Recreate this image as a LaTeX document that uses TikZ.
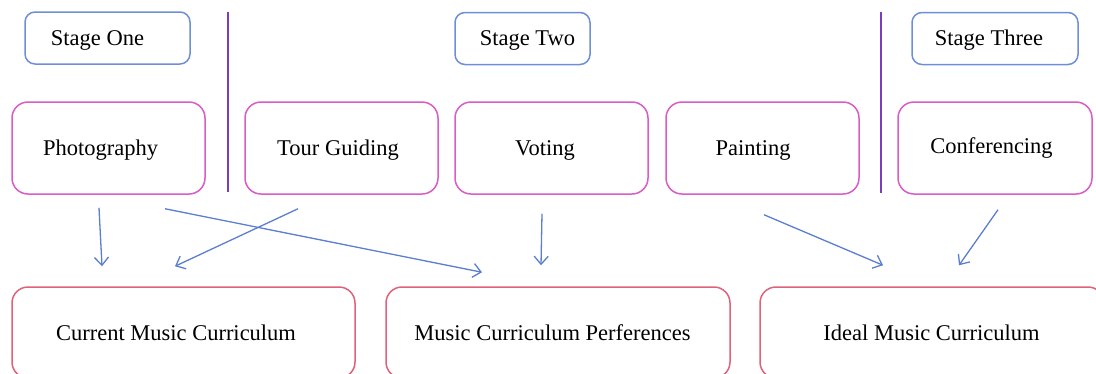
\documentclass[tikz,border=0pt]{standalone}
\usepackage{fontspec}
\setmainfont{Liberation Serif}
\usetikzlibrary{arrows.meta}
\definecolor{stageblue}{HTML}{6E8FD8}
\definecolor{midmag}{HTML}{D95CC8}
\definecolor{botred}{HTML}{E0627A}
\definecolor{arrblue}{HTML}{5B7ED2}
\definecolor{divpurple}{HTML}{7A3CC0}
\begin{document}
\begin{tikzpicture}[x=1pt,y=-1pt,
  every node/.style={inner sep=0pt},
  txt/.style={font=\fontsize{22.5}{26}\selectfont},
  stagebox/.style={draw=stageblue, line width=1.5pt, rounded corners=10pt, minimum height=52pt},
  actbox/.style={draw=midmag, line width=1.5pt, rounded corners=16pt, minimum width=193pt, minimum height=92pt},
  outbox/.style={draw=botred, line width=1.5pt, rounded corners=16pt, minimum width=343pt, minimum height=91pt},
  link/.style={draw=arrblue, line width=1.3pt, -{Straight Barb[length=8pt,width=14pt]}},
  divider/.style={draw=divpurple, line width=1.5pt}]
\useasboundingbox (0,0) rectangle (1096,373);
% stage labels
\node[stagebox, minimum width=165pt] (s1) at (107.5,38) {};
\node[stagebox, minimum width=135pt] (s2) at (522.5,38.5) {};
\node[stagebox, minimum width=166pt] (s3) at (995,38.5) {};
\node[txt] (s1t) at (97.5,40) {Stage One};
\node[txt] (s2t) at (527.5,40.5) {Stage Two};
\node[txt] (s3t) at (989,40.5) {Stage Three};
% dividers
\draw[divider] (228,12) -- (228,192);
\draw[divider] (881,12) -- (881,193);
% activities
\node[actbox] (photo) at (108.5,148) {};
\node[actbox] (tour) at (341.5,148) {};
\node[actbox] (vote) at (551.5,148) {};
\node[actbox] (paint) at (762.5,148) {};
\node[actbox, minimum width=194pt] (conf) at (995,148) {};
\node[txt] (photot) at (100.5,150) {Photography};
\node[txt] (tourt) at (338,150) {Tour Guiding};
\node[txt] (votet) at (545,150) {Voting};
\node[txt] (paintt) at (753,150) {Painting};
\node[txt] (conft) at (991.5,148) {Conferencing};
% outcomes
\node[outbox] (cur) at (183.5,332.5) {};
\node[outbox, minimum width=344pt] (pref) at (558,332.5) {};
\node[outbox, minimum width=344pt] (ideal) at (932,332.5) {};
\node[txt] (curt) at (176,333) {Current Music Curriculum};
\node[txt] (preft) at (552.5,333) {Music Curriculum Perferences};
\node[txt] (idealt) at (931.5,333) {Ideal Music Curriculum};
% connectors
\draw[link] ([xshift=-9.5pt,yshift=-13pt]photo.south) -- ([xshift=-81.5pt,yshift=20pt]cur.north);
\draw[link] ([xshift=56.5pt,yshift=-14pt]photo.south) -- ([xshift=-76pt,yshift=14pt]pref.north);
\draw[link] ([xshift=-43.5pt,yshift=-14pt]tour.south) -- ([xshift=-8.5pt,yshift=20pt]cur.north);
\draw[link] ([xshift=-9.5pt,yshift=-19pt]vote.south) -- ([xshift=-17pt,yshift=21pt]pref.north);
\draw[link] ([xshift=1.5pt,yshift=-20pt]paint.south) -- ([xshift=-49pt,yshift=21pt]ideal.north);
\draw[link] ([xshift=3pt,yshift=-15pt]conf.south) -- ([xshift=27pt,yshift=21pt]ideal.north);
\end{tikzpicture}
\end{document}
